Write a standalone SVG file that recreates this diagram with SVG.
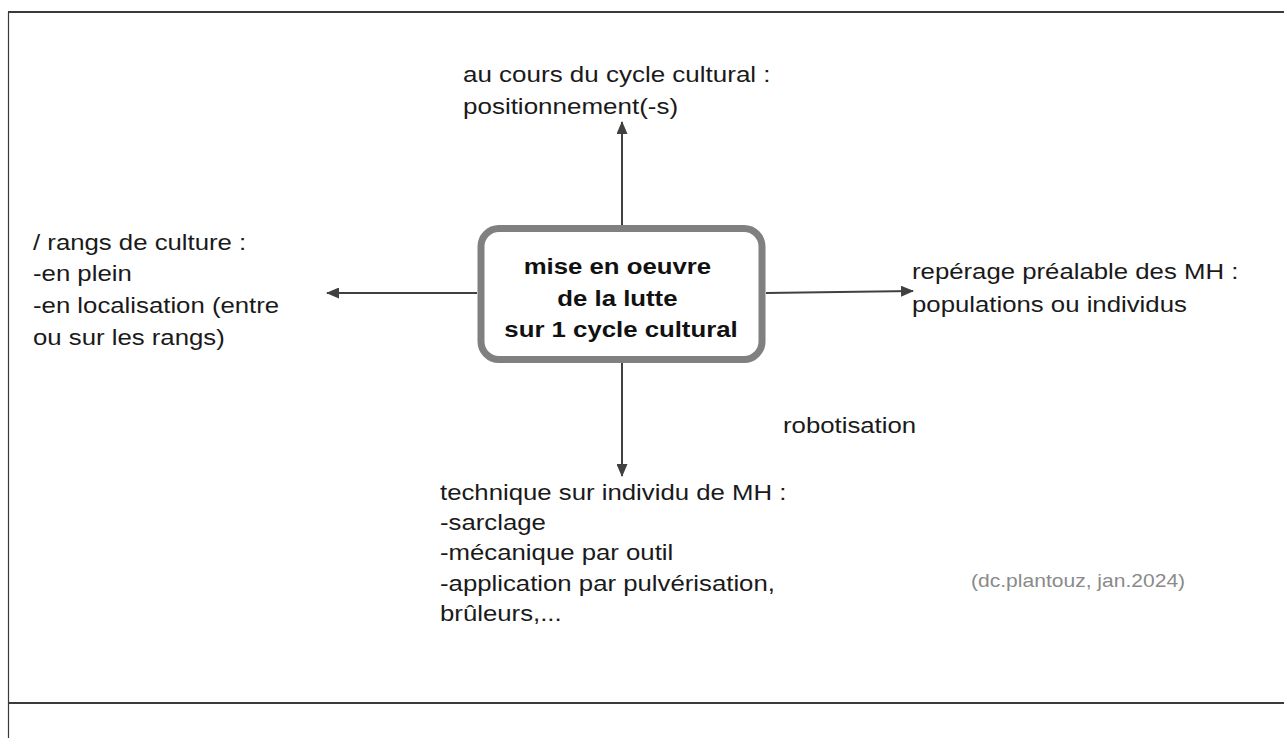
<svg xmlns="http://www.w3.org/2000/svg" width="1284" height="738" viewBox="0 0 1284 738">
  <defs>
    <marker id="arrow" viewBox="0 0 13 11" refX="12" refY="5.5" markerWidth="13" markerHeight="11" markerUnits="userSpaceOnUse" orient="auto">
      <path d="M0,0 L13,5.5 L0,11 Z" fill="#404040"/>
    </marker>
    <style>
      .frame { stroke: #3a3a3a; fill: none; }
      .link { stroke: #404040; stroke-width: 2; fill: none; marker-end: url(#arrow); }
      .box { fill: #ffffff; stroke: #808080; stroke-width: 7; }
      .lbl { font-family: "Liberation Sans", Arial, sans-serif; font-size: 22.5px; fill: #1a1a1a; }
      .title { font-family: "Liberation Sans", Arial, sans-serif; font-size: 22.5px; font-weight: bold; fill: #111111; text-anchor: middle; }
      .credit { font-family: "Liberation Sans", Arial, sans-serif; font-size: 18px; fill: #8a8a8a; }
    </style>
  </defs>

  <rect width="1284" height="738" fill="#ffffff"/>

  <!-- slide frame -->
  <g id="frame">
    <line class="frame" x1="8" y1="12" x2="1284" y2="12" stroke-width="2"/>
    <line class="frame" x1="8.5" y1="12" x2="8.5" y2="738" stroke-width="1.2"/>
    <line class="frame" x1="8" y1="703" x2="1284" y2="703" stroke-width="2"/>
  </g>

  <!-- connectors -->
  <g id="connectors">
    <line class="link" x1="622" y1="225" x2="622" y2="122"/>
    <line class="link" x1="477" y1="293" x2="327" y2="293"/>
    <line class="link" x1="766" y1="293" x2="913" y2="291"/>
    <line class="link" x1="622" y1="363" x2="622" y2="476"/>
  </g>

  <g id="center">
    <rect class="box" x="481" y="228.5" width="281" height="131" rx="18"/>
    <text class="title" transform="translate(621,0) scale(1.145,1)">
      <tspan x="0" y="274">mise en oeuvre</tspan>
      <tspan x="0" y="306">de la lutte</tspan>
      <tspan x="0" y="337">sur 1 cycle cultural</tspan>
    </text>
  </g>

  <g id="top">
    <text class="lbl" transform="translate(463,0) scale(1.155,1)">
      <tspan x="0" y="82">au cours du cycle cultural :</tspan>
      <tspan x="0" y="114">positionnement(-s)</tspan>
    </text>
  </g>

  <g id="left">
    <text class="lbl" transform="translate(33,0) scale(1.145,1)">
      <tspan x="0" y="250">/ rangs de culture :</tspan>
      <tspan x="0" y="281">-en plein</tspan>
      <tspan x="0" y="313">-en localisation (entre</tspan>
      <tspan x="0" y="345">ou sur les rangs)</tspan>
    </text>
  </g>

  <g id="right">
    <text class="lbl" transform="translate(912,0) scale(1.145,1)">
      <tspan x="0" y="279">repérage préalable des MH :</tspan>
      <tspan x="0" y="312">populations ou individus</tspan>
    </text>
  </g>

  <g id="bottom">
    <text class="lbl" transform="translate(440,0) scale(1.145,1)">
      <tspan x="0" y="500">technique sur individu de MH :</tspan>
      <tspan x="0" y="530">-sarclage</tspan>
      <tspan x="0" y="560">-mécanique par outil</tspan>
      <tspan x="0" y="591">-application par pulvérisation,</tspan>
      <tspan x="0" y="621">brûleurs,...</tspan>
    </text>
  </g>

  <g id="robot">
    <text class="lbl" transform="translate(783,0) scale(1.145,1)" y="433">robotisation</text>
  </g>

  <g id="credit">
    <text class="credit" transform="translate(971,0) scale(1.17,1)" y="587">(dc.plantouz, jan.2024)</text>
  </g>
</svg>
